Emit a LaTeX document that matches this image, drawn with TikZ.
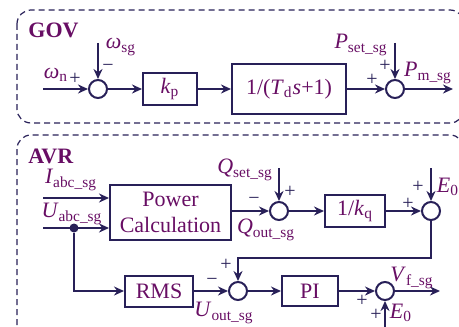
\documentclass[tikz,border=0pt]{standalone}
\usepackage{fontspec}
\setmainfont{Liberation Serif}
\usetikzlibrary{arrows.meta, positioning, calc}
\definecolor{sigline}{RGB}{40,32,88}
\definecolor{txtpurple}{RGB}{104,14,100}
\newcommand{\sig}[2]{\textit{#1}\textsubscript{#2}}
\tikzset{
  blk/.style={rectangle, draw=sigline, line width=1pt, fill=white, text=txtpurple,
    inner sep=0pt, font=\fontsize{11}{13}\selectfont},
  sumj/.style={circle, draw=sigline, line width=1pt, minimum size=9pt, inner sep=0pt},
  sarrow/.style={-{Stealth[length=5pt,width=4.5pt]}, line width=1pt, color=sigline},
  lbl/.style={text=txtpurple, inner sep=0pt, font=\fontsize{11}{13}\selectfont},
  ttl/.style={text=txtpurple, inner sep=0pt, anchor=west, font=\fontsize{11}{13}\selectfont\bfseries},
  sgn/.style={text=sigline, inner sep=0pt, font=\fontsize{10}{12}\selectfont},
  dashbox/.style={draw=sigline, line width=0.6pt, rounded corners=7pt, dash pattern=on 3pt off 2pt},
  jdot/.style={circle, fill=sigline, minimum size=4.5pt, inner sep=0pt}
}
\begin{document}
\begin{tikzpicture}[x=0.5pt, y=-0.5pt]
  \useasboundingbox (0,0) rectangle (459,326);

  % Frames
  \draw[dashbox] (17,10) rectangle (464,123);
  \draw[dashbox] (17,135) rectangle (464,350);
  \node[ttl] (govttl) at (28,30) {GOV};
  \node[ttl] (avrttl) at (28,156) {AVR};

  % GOV loop
  \node[sumj] (s1) at (98,89) {};
  \node[blk, minimum width=27pt, minimum height=15.5pt] (kp) at (170,89) {\sig{k}{p}};
  \node[blk, minimum width=57pt, minimum height=24.5pt] (td) at (289,89) {1/(\sig{T}{d}\textit{s}+1)};
  \node[sumj] (s2) at (395,89) {};
  \coordinate (wnin) at (43,89);
  \coordinate (wsin) at (98,43);
  \coordinate (psin) at (395,43);
  \coordinate (pmout) at (453,89);
  \draw[sarrow] (wnin) -- (s1);
  \draw[sarrow] (wsin) -- (s1);
  \draw[sarrow] (s1) -- (kp);
  \draw[sarrow] (kp) -- (td);
  \draw[sarrow] (td) -- (s2);
  \draw[sarrow] (psin) -- (s2);
  \draw[sarrow] (s2) -- (pmout);

  % GOV labels
  \node[lbl] (wnl) at (56,75) {\sig{ω}{n}};
  \node[sgn] (wnp) at (75,79) {+};
  \node[lbl] (wsl) at (121,47) {\sig{ω}{sg}};
  \node[sgn] (wsm) at (108,68) {−};
  \node[lbl] (psl) at (361,45) {\sig{P}{set\_sg}};
  \node[sgn] (psp) at (385,66) {+};
  \node[sgn] (tdp) at (372,80) {+};
  \node[lbl] (pml) at (428,73) {\sig{P}{m\_sg}};

  % AVR: power calculation and Q loop
  \node[blk, minimum width=60.5pt, minimum height=27.5pt, align=center] (pc) at (170.5,212) {Power\\Calculation};
  \coordinate (iin) at (43,198);
  \coordinate (uin) at (43,228);
  \draw[sarrow] (iin) -- (iin -| pc.west);
  \draw[sarrow] (uin) -- (uin -| pc.west);
  \node[jdot] (ud) at (74,228) {};
  \node[sumj] (s3) at (279,211) {};
  \coordinate (qsin) at (279,168);
  \draw[sarrow] (qsin) -- (s3);
  \draw[sarrow] (pc.east |- s3) -- (s3);
  \node[blk, minimum width=30pt, minimum height=16pt] (kq) at (355,211) {1/\sig{k}{q}};
  \draw[sarrow] (s3) -- (kq);
  \node[sumj] (s5) at (431,211) {};
  \coordinate (e0in) at (431,168);
  \draw[sarrow] (e0in) -- (s5);
  \draw[sarrow] (kq) -- (s5);

  % AVR: voltage loop
  \node[blk, minimum width=34pt, minimum height=15.5pt] (rms) at (159,291) {RMS};
  \draw[sarrow] (ud) |- (rms);
  \node[sumj] (s4) at (238,291) {};
  \draw[sarrow] (rms) -- (s4);
  \coordinate (fb) at (431,258);
  \draw[sarrow] (s5) -- (fb) -| (s4);
  \node[blk, minimum width=28pt, minimum height=15pt] (pi) at (310,291) {PI};
  \draw[sarrow] (s4) -- (pi);
  \node[sumj] (s6) at (385,291) {};
  \draw[sarrow] (pi) -- (s6);
  \coordinate (vfout) at (440,291);
  \draw[sarrow] (s6) -- (vfout);
  \coordinate (e0b) at (385,330);
  \draw[sarrow] (e0b) -- (s6);

  % AVR labels
  \node[lbl] (il) at (71,180) {\sig{I}{abc\_sg}};
  \node[lbl] (ul) at (72,214) {\sig{U}{abc\_sg}};
  \node[lbl] (qsl) at (245,170) {\sig{Q}{set\_sg}};
  \node[sgn] (qsp) at (290,192) {+};
  \node[sgn] (qom) at (254,201) {−};
  \node[lbl] (qol) at (266,230) {\sig{Q}{out\_sg}};
  \node[sgn] (kqp) at (408,204) {+};
  \node[sgn] (e0p) at (418,187) {+};
  \node[lbl] (e0l) at (448,187) {\sig{E}{0}};
  \node[sgn] (rmsm) at (212,282) {−};
  \node[sgn] (fbp) at (226,265) {+};
  \node[lbl] (uol) at (224,313) {\sig{U}{out\_sg}};
  \node[lbl] (vfl) at (412,278) {\sig{V}{f\_sg}};
  \node[sgn] (pip) at (362,301) {+};
  \node[sgn] (e0bp) at (376,315) {+};
  \node[lbl] (e0bl) at (401,313) {\sig{E}{0}};
\end{tikzpicture}
\end{document}
